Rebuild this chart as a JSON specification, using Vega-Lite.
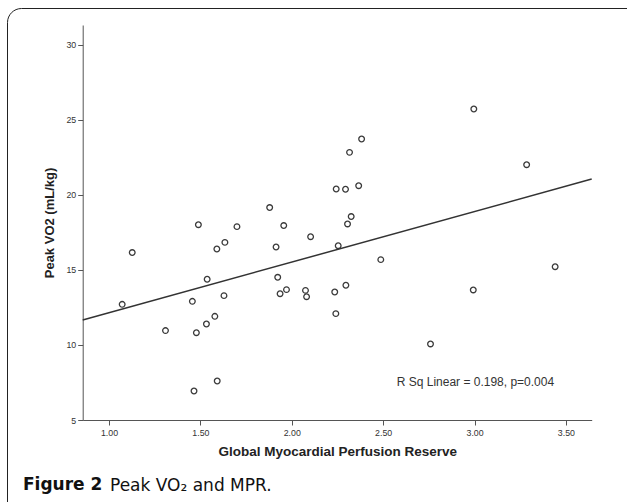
{
  "$schema": "https://vega.github.io/schema/vega-lite/v6.json",
  "autosize": {"type": "pad"},
  "padding": {"left": 6, "top": 7, "right": 0, "bottom": 0},
  "background": "white",
  "config": {
    "view": {"stroke": "#222", "strokeWidth": 1, "cornerRadius": 14},
    "axis": {
      "grid": false,
      "domainColor": "#555",
      "tickColor": "#555",
      "tickSize": 5,
      "labelFont": "Liberation Sans",
      "labelFontSize": 8.8,
      "labelColor": "#333",
      "titleFont": "Liberation Sans",
      "titleFontWeight": "bold",
      "titleColor": "#222"
    }
  },
  "title": {
    "text": "Peak VO₂ and MPR.",
    "orient": "bottom",
    "anchor": "start",
    "frame": "group",
    "offset": -51,
    "dx": 103,
    "font": "DejaVu Sans",
    "fontSize": 17,
    "fontWeight": "normal",
    "color": "#111"
  },
  "hconcat": [
    {
      "width": 640,
      "height": 520,
      "title": {
        "text": "Figure 2",
        "orient": "bottom",
        "anchor": "start",
        "frame": "group",
        "offset": -51,
        "dx": 16,
        "font": "DejaVu Sans",
        "fontSize": 17,
        "fontWeight": "bold",
        "color": "#111"
      },
      "data": {
        "values": [
          {"mpr": 1.072, "vo2": 12.71},
          {"mpr": 1.127, "vo2": 16.16},
          {"mpr": 1.309, "vo2": 10.96},
          {"mpr": 1.456, "vo2": 12.91},
          {"mpr": 1.478, "vo2": 10.82},
          {"mpr": 1.465, "vo2": 6.93},
          {"mpr": 1.489, "vo2": 18.02},
          {"mpr": 1.533, "vo2": 11.4},
          {"mpr": 1.537, "vo2": 14.38},
          {"mpr": 1.579, "vo2": 11.91},
          {"mpr": 1.59, "vo2": 16.4},
          {"mpr": 1.592, "vo2": 7.6},
          {"mpr": 1.629, "vo2": 13.29},
          {"mpr": 1.634, "vo2": 16.84},
          {"mpr": 1.7, "vo2": 17.89},
          {"mpr": 1.879, "vo2": 19.16},
          {"mpr": 1.914, "vo2": 16.53},
          {"mpr": 1.923, "vo2": 14.51},
          {"mpr": 1.936, "vo2": 13.42},
          {"mpr": 1.956, "vo2": 17.96},
          {"mpr": 1.971, "vo2": 13.69},
          {"mpr": 2.075, "vo2": 13.64},
          {"mpr": 2.081, "vo2": 13.22},
          {"mpr": 2.103, "vo2": 17.22},
          {"mpr": 2.235, "vo2": 13.53},
          {"mpr": 2.241, "vo2": 12.09},
          {"mpr": 2.243, "vo2": 20.4},
          {"mpr": 2.254, "vo2": 16.62},
          {"mpr": 2.294, "vo2": 20.38},
          {"mpr": 2.296, "vo2": 13.98},
          {"mpr": 2.305, "vo2": 18.07},
          {"mpr": 2.316, "vo2": 22.84},
          {"mpr": 2.325, "vo2": 18.56},
          {"mpr": 2.366, "vo2": 20.62},
          {"mpr": 2.382, "vo2": 23.73},
          {"mpr": 2.487, "vo2": 15.69},
          {"mpr": 2.759, "vo2": 10.07},
          {"mpr": 2.993, "vo2": 13.67},
          {"mpr": 2.996, "vo2": 25.73},
          {"mpr": 3.285, "vo2": 22.02},
          {"mpr": 3.441, "vo2": 15.22}
        ]
      },
      "encoding": {
        "x": {
          "field": "mpr",
          "type": "quantitative",
          "scale": {"domain": [0.856, 3.641], "range": [75.7, 584.7], "nice": false, "zero": false},
          "axis": {
            "title": "Global Myocardial Perfusion Reserve",
            "values": [1, 1.5, 2, 2.5, 3, 3.5],
            "format": ".2f",
            "offset": -108,
            "labelPadding": 3,
            "titlePadding": 8,
            "titleFontSize": 13.5
          }
        },
        "y": {
          "field": "vo2",
          "type": "quantitative",
          "scale": {"domain": [5, 31.33], "range": [412, 17], "nice": false, "zero": false},
          "axis": {
            "title": "Peak VO2 (mL/kg)",
            "values": [5, 10, 15, 20, 25, 30],
            "offset": -75.7,
            "labelPadding": 2,
            "titlePadding": 9,
            "titleFontSize": 13
          }
        }
      },
      "layer": [
        {
          "mark": {"type": "point", "shape": "circle", "filled": false, "color": "#3a3a3a", "size": 32, "strokeWidth": 1.3, "opacity": 1}
        },
        {
          "transform": [{"regression": "vo2", "on": "mpr", "extent": [0.856, 3.641]}],
          "mark": {"type": "line", "color": "#333", "strokeWidth": 1.5}
        },
        {
          "transform": [{"filter": "datum.mpr === 2.759"}],
          "mark": {"type": "text", "text": "R Sq Linear = 0.198, p=0.004", "align": "left", "baseline": "middle", "font": "Liberation Sans", "fontSize": 12, "color": "#333"},
          "encoding": {
            "x": {"datum": 2.574},
            "y": {"datum": 7.55}
          }
        }
      ]
    }
  ]
}
